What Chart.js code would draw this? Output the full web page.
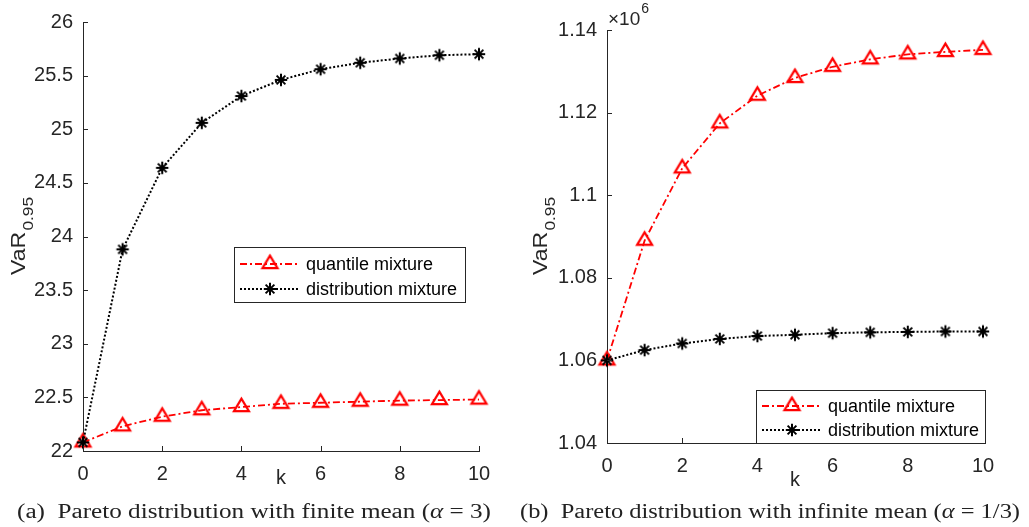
<!DOCTYPE html>
<html>
<head>
<meta charset="utf-8">
<script src="https://cdn.jsdelivr.net/npm/chart.js@4"></script>
<style>
  body { margin: 0; background: #fff; }
  .wrap { position: relative; width: 1029px; height: 527px; overflow: hidden; }
  .panel { position: absolute; top: 0; height: 527px; }
</style>
</head>
<body>
<div class="wrap">
  <div class="panel" style="left:0;width:514px"><canvas id="chartA" width="514" height="527"></canvas></div>
  <div class="panel" style="left:514px;width:515px"><canvas id="chartB" width="515" height="527"></canvas></div>
</div>
<script>
// k values (x axis)
var k = [0, 1, 2, 3, 4, 5, 6, 7, 8, 9, 10];

// (a) alpha = 3
var quantileA = [22.08, 22.23, 22.32, 22.38, 22.41, 22.44, 22.45, 22.46, 22.47, 22.475, 22.48];
var distributionA = [22.08, 23.88, 24.64, 25.06, 25.31, 25.46, 25.56, 25.62, 25.66, 25.69, 25.70];

// (b) alpha = 1/3, values in units of 10^6
var quantileB = [1.0600, 1.0890, 1.1065, 1.1174, 1.1241, 1.1284, 1.1311, 1.1329, 1.1341, 1.1347, 1.1352];
var distributionB = [1.0600, 1.0625, 1.0641, 1.0652, 1.0659, 1.0662, 1.0666, 1.0668, 1.0669, 1.0670, 1.0670];

var xTicks = [0, 2, 4, 6, 8, 10];
var yTicksA = [22, 22.5, 23, 23.5, 24, 24.5, 25, 25.5, 26];
var yTicksB = [1.04, 1.06, 1.08, 1.1, 1.12, 1.14];

var seriesNames = ['quantile mixture', 'distribution mixture'];
var captionA = ['(a)  Pareto distribution with finite mean (', 'α', ' = 3)'];
var captionB = ['(b)  Pareto distribution with infinite mean (', 'α', ' = 1/3)'];

var AXIS = '#262626';
var SANS = '"Liberation Sans", Arial, Helvetica, sans-serif';
var SERIF = '"Liberation Serif", "Times New Roman", serif';

// marker images (MATLAB style open triangle and asterisk)
function triangleMarker() {
  // centroid of the triangle sits at the image centre
  var c = document.createElement('canvas');
  c.width = 21; c.height = 24;
  var g = c.getContext('2d');
  var h = 12.5, w = 15, cx = 10.5, cy = 12;
  g.strokeStyle = '#ff0000';
  g.lineWidth = 2.2;
  g.lineJoin = 'miter';
  g.beginPath();
  g.moveTo(cx, cy - h * 2 / 3);
  g.lineTo(cx - w / 2, cy + h / 3);
  g.lineTo(cx + w / 2, cy + h / 3);
  g.closePath();
  g.stroke();
  return c;
}
function starMarker() {
  var c = document.createElement('canvas');
  c.width = 16; c.height = 16;
  var g = c.getContext('2d');
  var r = 6.2, d = r * Math.SQRT1_2;
  g.strokeStyle = '#000000';
  g.lineWidth = 2;
  g.beginPath();
  g.moveTo(8, 8 - r); g.lineTo(8, 8 + r);
  g.moveTo(8 - r, 8); g.lineTo(8 + r, 8);
  g.moveTo(8 - d, 8 - d); g.lineTo(8 + d, 8 + d);
  g.moveTo(8 - d, 8 + d); g.lineTo(8 + d, 8 - d);
  g.stroke();
  return c;
}
var markerImgs = [triangleMarker(), starMarker()];
var lineStyles = [
  { color: '#ff0000', width: 1.8, dash: [7, 3, 2, 3] },
  { color: '#000000', width: 2, dash: [2, 2] }
];

function points(ys) {
  return k.map(function (v, i) { return { x: v, y: ys[i] }; });
}

function datasets(q, d) {
  return [q, d].map(function (ys, i) {
    return {
      label: seriesNames[i],
      data: points(ys),
      borderColor: lineStyles[i].color,
      borderWidth: lineStyles[i].width,
      borderDash: lineStyles[i].dash,
      pointStyle: markerImgs[i],
      pointRadius: 8,
      tension: 0,
      clip: false,
      order: 2 - i
    };
  });
}

// axis decorations, labels, legend and caption
var decor = {
  id: 'decor',
  afterDraw: function (chart, args, o) {
    var ctx = chart.ctx, a = chart.chartArea;
    var xs = chart.scales.x, ys = chart.scales.y;
    ctx.save();

    // inward tick marks
    ctx.strokeStyle = AXIS;
    ctx.lineWidth = 1;
    ctx.beginPath();
    xTicks.forEach(function (v) {
      var px = Math.round(xs.getPixelForValue(v)) + 0.5;
      ctx.moveTo(px, a.bottom);
      ctx.lineTo(px, a.bottom - 5);
    });
    o.yTicks.forEach(function (v) {
      var py = Math.round(ys.getPixelForValue(v)) + 0.5;
      ctx.moveTo(a.left, py);
      ctx.lineTo(a.left + 5, py);
    });
    ctx.stroke();

    // y title VaR_{0.95}, stretched along the text to the reference length
    ctx.fillStyle = AXIS;
    ctx.textAlign = 'left';
    ctx.textBaseline = 'alphabetic';
    ctx.font = '20px ' + SANS;
    var w1 = ctx.measureText('VaR').width;
    ctx.font = '15px ' + SANS;
    var w2 = ctx.measureText('0.95').width;
    var stretch = 77 / (w1 + w2);
    var cy = (a.top + a.bottom) / 2;
    ctx.save();
    ctx.translate(o.yTitleX, cy + 38.5);
    ctx.rotate(-Math.PI / 2);
    ctx.scale(stretch, 1);
    ctx.font = '20px ' + SANS;
    ctx.fillText('VaR', 0, 0);
    ctx.font = '15px ' + SANS;
    ctx.fillText('0.95', w1 + 1, 8);
    ctx.restore();

    // x title k
    ctx.font = '20px ' + SANS;
    ctx.textAlign = 'center';
    ctx.fillText('k', (a.left + a.right) / 2, o.kY);

    // exponent label
    if (o.exponent) {
      ctx.textAlign = 'left';
      ctx.font = '19px ' + SANS;
      ctx.fillText('×10', a.left + 1, a.top - 5);
      var we = ctx.measureText('×10').width;
      ctx.font = '14px ' + SANS;
      ctx.fillText(o.exponent, a.left + 1 + we + 1, a.top - 17);
    }

    // legend
    var L = o.legend;
    ctx.fillStyle = '#ffffff';
    ctx.fillRect(L.x, L.y, L.w, L.h);
    ctx.strokeStyle = AXIS;
    ctx.lineWidth = 1;
    ctx.strokeRect(L.x + 0.5, L.y + 0.5, L.w, L.h);
    seriesNames.forEach(function (name, i) {
      var s = lineStyles[i], img = markerImgs[i];
      var ry = L.rows[i];
      ctx.save();
      ctx.strokeStyle = s.color;
      ctx.lineWidth = s.width;
      ctx.setLineDash(s.dash);
      ctx.beginPath();
      ctx.moveTo(L.x + 6, ry);
      ctx.lineTo(L.x + 66, ry);
      ctx.stroke();
      ctx.restore();
      ctx.drawImage(img, L.x + 36 - img.width / 2, ry - img.height / 2);
      ctx.fillStyle = '#000000';
      ctx.font = '18px ' + SANS;
      ctx.textAlign = 'left';
      ctx.textBaseline = 'middle';
      ctx.fillText(name, L.x + 72, ry + 1);
    });

    // caption, stretched to its measured width
    var parts = o.caption;
    var size = 20;
    function fontFor(j) { return (j === 1 ? 'italic ' : '') + size + 'px ' + SERIF; }
    var tw = 0;
    parts.forEach(function (p, j) { ctx.font = fontFor(j); tw += ctx.measureText(p).width; });
    var sx = o.captionWidth / tw;
    ctx.save();
    ctx.translate(o.captionX - o.captionWidth / 2, 518);
    ctx.scale(sx, 1);
    ctx.fillStyle = '#222222';
    ctx.textBaseline = 'alphabetic';
    ctx.textAlign = 'left';
    var cx = 0;
    parts.forEach(function (p, j) {
      ctx.font = fontFor(j);
      ctx.fillText(p, cx, 0);
      cx += ctx.measureText(p).width;
    });
    ctx.restore();

    ctx.restore();
  }
};

function tickFormat(v) {
  return String(+Number(v).toFixed(4));
}

function makeChart(id, q, d, yMin, yMax, yTicks, pad, yWidth, xHeight, deco) {
  return new Chart(document.getElementById(id), {
    type: 'line',
    data: { datasets: datasets(q, d) },
    plugins: [decor],
    options: {
      responsive: false,
      animation: false,
      layout: { padding: pad },
      plugins: {
        legend: { display: false },
        tooltip: { enabled: false },
        decor: deco
      },
      scales: {
        x: {
          type: 'linear',
          min: 0,
          max: 10,
          afterBuildTicks: function (s) { s.ticks = xTicks.map(function (v) { return { value: v }; }); },
          afterFit: function (s) { s.height = xHeight; },
          ticks: { color: AXIS, font: { family: SANS, size: 20 }, padding: 11, maxRotation: 0, autoSkip: false, callback: tickFormat },
          grid: { display: false, drawTicks: false },
          border: { display: true, color: AXIS, width: 1 }
        },
        y: {
          type: 'linear',
          min: yMin,
          max: yMax,
          afterBuildTicks: function (s) { s.ticks = yTicks.map(function (v) { return { value: v }; }); },
          afterFit: function (s) { s.width = yWidth; },
          ticks: { color: AXIS, font: { family: SANS, size: 20 }, padding: 10, autoSkip: false, callback: tickFormat },
          grid: { display: false, drawTicks: false },
          border: { display: true, color: AXIS, width: 1 }
        }
      }
    }
  });
}

makeChart('chartA', quantileA, distributionA, 22, 26, yTicksA,
  { top: 15, right: 35, bottom: 0, left: 0 }, 83, 76, {
    yTicks: yTicksA,
    yTitleX: 25,
    kY: 484,
    exponent: null,
    legend: { x: 234, y: 247, w: 231, h: 55, rows: [264, 289] },
    caption: captionA,
    captionX: 254,
    captionWidth: 474
  });

makeChart('chartB', quantileB, distributionB, 1.04, 1.14, yTicksB,
  { top: 30, right: 46, bottom: 0, left: 0 }, 93, 84, {
    yTicks: yTicksB,
    yTitleX: 33,
    kY: 486,
    exponent: '6',
    legend: { x: 242, y: 390, w: 229, h: 53, rows: [406, 430] },
    caption: captionB,
    captionX: 256,
    captionWidth: 500
  });
</script>
</body>
</html>
